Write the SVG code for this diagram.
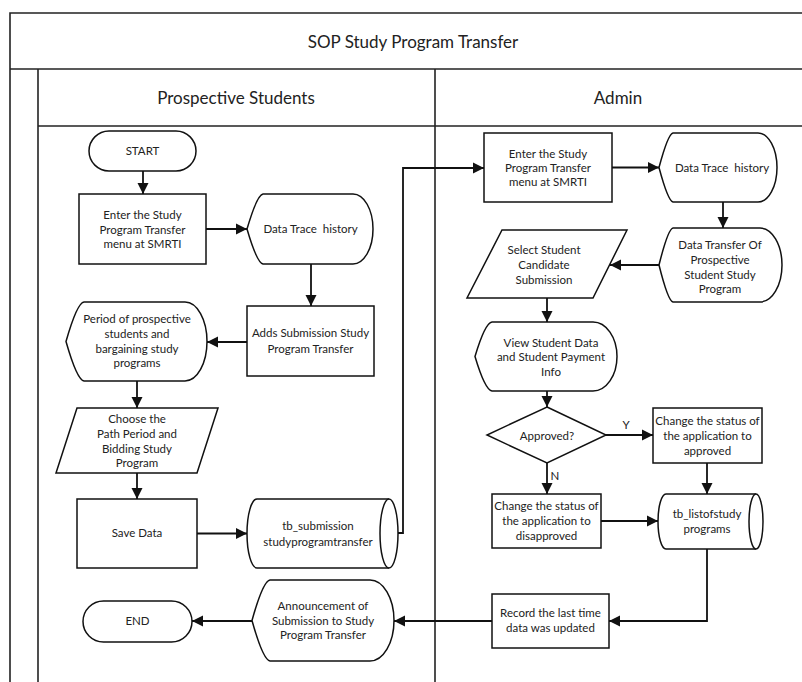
<svg xmlns="http://www.w3.org/2000/svg" width="802" height="682" viewBox="0 0 802 682">
  <style>
    .frame { fill: none; stroke: #222; stroke-width: 1.6; }
    .shape { fill: #fff; stroke: #111; stroke-width: 1.5; }
    .edge { fill: none; stroke: #111; stroke-width: 1.8; }
    text { font-family: Lato, "Liberation Sans", sans-serif; font-size: 11.5px; fill: #222; text-anchor: middle; }
    .hdr { font-size: 17px; }
  </style>
  <defs>
    <marker id="arrow" markerWidth="12" markerHeight="12" refX="11" refY="6" orient="auto" markerUnits="userSpaceOnUse">
      <path d="M0,0.5 L11,6 L0,11.5 z" fill="#111"/>
    </marker>
  </defs>

  <rect width="802" height="682" fill="#fff"/>

  <!-- swimlane frame -->
  <g id="pool">
    <path class="frame" d="M10,682 V13 H803"/>
    <path class="frame" d="M10,69 H803"/>
    <path class="frame" d="M38,682 V69"/>
    <path class="frame" d="M38,126 H803"/>
    <path class="frame" d="M435,69 V682"/>
    <text class="hdr" x="413" y="48">SOP Study Program Transfer</text>
    <text class="hdr" x="236" y="104">Prospective Students</text>
    <text class="hdr" x="618" y="104">Admin</text>
  </g>

  <!-- connectors -->
  <g id="connectors" class="edge" marker-end="url(#arrow)">
    <path d="M143,171 V194"/>
    <path d="M206,229 H247"/>
    <path d="M311,264 V306"/>
    <path d="M247,342 H207"/>
    <path d="M137,381 V408"/>
    <path d="M137,473 V499"/>
    <path d="M197,533.5 H247"/>
    <path d="M398,533 H403 V168 H484"/>
    <path d="M612,167.5 H659"/>
    <path d="M723,202 V228"/>
    <path d="M659,265 H610"/>
    <path d="M547,298 V322"/>
    <path d="M547,391 V407"/>
    <path d="M606,435 H653"/>
    <path d="M547,463 V494"/>
    <path d="M707,463 V494"/>
    <path d="M601,521 H658"/>
    <path d="M707,549 V621 H609"/>
    <path d="M492,621 H394"/>
    <path d="M252,621 H192"/>
  </g>
  <g id="edge-labels">
    <text x="626" y="429">Y</text>
    <text x="555" y="480">N</text>
  </g>

  <!-- Prospective Students lane -->
  <g id="start">
    <rect class="shape" x="89" y="131" width="107" height="40" rx="20"/>
    <text x="142.5" y="155">START</text>
  </g>
  <g id="enter-menu-student">
    <rect class="shape" x="79" y="194" width="127" height="70"/>
    <text x="142.5" y="219">Enter the Study</text>
    <text x="142.5" y="233.5">Program Transfer</text>
    <text x="142.5" y="248">menu at SMRTI</text>
  </g>
  <g id="trace-history-student">
    <path class="shape" d="M247,229 Q257,195 263,194 L353,194 A20,35 0 0 1 353,264 L263,264 Q257,263 247,229 Z"/>
    <text x="310.5" y="233" xml:space="preserve">Data Trace  history</text>
  </g>
  <g id="adds-submission">
    <rect class="shape" x="247" y="306" width="127" height="70"/>
    <text x="310.5" y="337">Adds Submission Study</text>
    <text x="310.5" y="353">Program Transfer</text>
  </g>
  <g id="period-bargaining">
    <path class="shape" d="M66,341.5 Q77,303 84,302 L185,302 A22,39.5 0 0 1 185,381 L84,381 Q77,380 66,341.5 Z"/>
    <text x="137" y="323">Period of prospective</text>
    <text x="137" y="338">students and</text>
    <text x="137" y="353">bargaining study</text>
    <text x="137" y="367">programs</text>
  </g>
  <g id="choose-path">
    <path class="shape" d="M77,408 L218,408 L197,473 L56,473 Z"/>
    <text x="137" y="423">Choose the</text>
    <text x="137" y="438">Path Period and</text>
    <text x="137" y="453">Bidding Study</text>
    <text x="137" y="467">Program</text>
  </g>
  <g id="save-data">
    <rect class="shape" x="77" y="499" width="120" height="69"/>
    <text x="137" y="537">Save Data</text>
  </g>
  <g id="tb-submission">
    <path class="shape" d="M257,499 L389,499 A9,34.5 0 0 1 389,568 L257,568 A10,34.5 0 0 1 257,499 Z"/>
    <path class="shape" fill="none" d="M389,499 A9,34.5 0 0 0 389,568"/>
    <text x="318" y="530">tb_submission</text>
    <text x="318" y="546">studyprogramtransfer</text>
  </g>
  <g id="end">
    <rect class="shape" x="83" y="601" width="109" height="41" rx="20.5"/>
    <text x="137.5" y="625">END</text>
  </g>
  <g id="announcement">
    <path class="shape" d="M252,620.5 Q263,581 270,580 L370,580 A24,40.5 0 0 1 370,661 L270,661 Q263,660 252,620.5 Z"/>
    <text x="323" y="610">Announcement of</text>
    <text x="323" y="625">Submission to Study</text>
    <text x="323" y="639">Program Transfer</text>
  </g>

  <!-- Admin lane -->
  <g id="enter-menu-admin">
    <rect class="shape" x="484" y="133" width="128" height="69"/>
    <text x="548" y="158">Enter the Study</text>
    <text x="548" y="172">Program Transfer</text>
    <text x="548" y="186">menu at SMRTI</text>
  </g>
  <g id="trace-history-admin">
    <path class="shape" d="M659,167.5 Q668,134 673,133 L758,133 A19,34.5 0 0 1 758,202 L673,202 Q668,201 659,167.5 Z"/>
    <text x="722" y="172" xml:space="preserve">Data Trace  history</text>
  </g>
  <g id="data-transfer">
    <path class="shape" d="M659,265 Q668,229 673,228 L760,228 A22,37 0 0 1 760,302 L673,302 Q668,301 659,265 Z"/>
    <text x="720" y="249">Data Transfer Of</text>
    <text x="720" y="264">Prospective</text>
    <text x="720" y="279">Student Study</text>
    <text x="720" y="293">Program</text>
  </g>
  <g id="select-candidate">
    <path class="shape" d="M502,230 L627,230 L593,298 L467,298 Z"/>
    <text x="544" y="254">Select Student</text>
    <text x="544" y="269">Candidate</text>
    <text x="544" y="284">Submission</text>
  </g>
  <g id="view-student-data">
    <path class="shape" d="M475,356.5 Q485,323 492,322 L593,322 A24,34.5 0 0 1 593,391 L492,391 Q485,390 475,356.5 Z"/>
    <text x="551" y="347">View Student Data</text>
    <text x="551" y="361">and Student Payment</text>
    <text x="551" y="376">Info</text>
  </g>
  <g id="approved-decision">
    <path class="shape" d="M547,407 L606,435 L547,463 L487,435 Z"/>
    <text x="547" y="440">Approved?</text>
  </g>
  <g id="status-approved">
    <rect class="shape" x="653" y="408" width="109" height="55"/>
    <text x="707.5" y="425">Change the status of</text>
    <text x="707.5" y="440">the application to</text>
    <text x="707.5" y="455">approved</text>
  </g>
  <g id="status-disapproved">
    <rect class="shape" x="492" y="494" width="109" height="54"/>
    <text x="546.5" y="510">Change the status of</text>
    <text x="546.5" y="525">the application to</text>
    <text x="546.5" y="540">disapproved</text>
  </g>
  <g id="tb-listofstudy">
    <path class="shape" d="M666,494 L756,494 A7,27.5 0 0 1 756,549 L666,549 A8,27.5 0 0 1 666,494 Z"/>
    <path class="shape" fill="none" d="M756,494 A7,27.5 0 0 0 756,549"/>
    <text x="707" y="518">tb_listofstudy</text>
    <text x="707" y="533">programs</text>
  </g>
  <g id="record-update">
    <rect class="shape" x="492" y="594" width="117" height="54"/>
    <text x="550.5" y="617">Record the last time</text>
    <text x="550.5" y="632">data was updated</text>
  </g>
</svg>
